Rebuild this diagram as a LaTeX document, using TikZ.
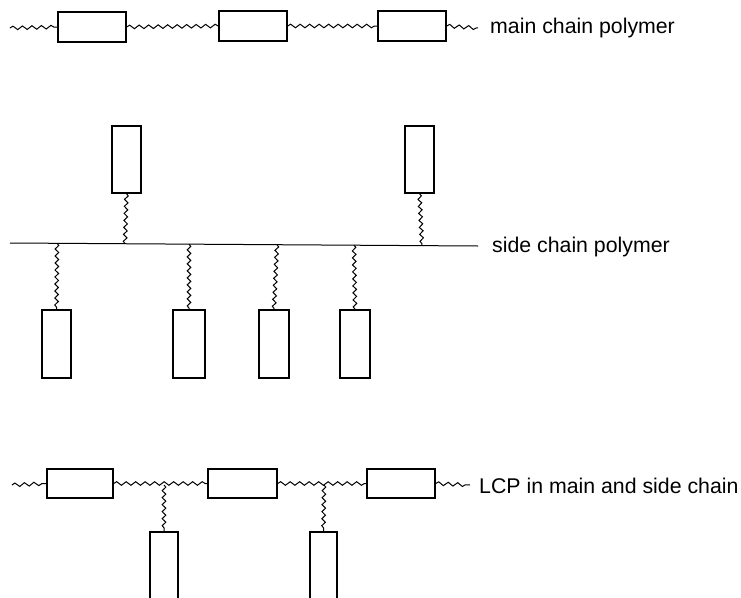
\documentclass[tikz,border=0pt]{standalone}
\usepackage{fontspec}
\setmainfont{Liberation Sans}
\usetikzlibrary{decorations.pathmorphing}
\begin{document}
\begin{tikzpicture}[x=1pt,y=-1pt,
  unit/.style={draw,line width=1.4pt,inner sep=0pt,fill=white},
  hbox/.style={unit,minimum width=68pt,minimum height=30pt},
  vbox/.style={unit,minimum width=29pt,minimum height=67pt},
  wavy/.style={line width=1pt,decorate,decoration={snake,segment length=9.5pt,amplitude=1.8pt}},
  vwavy/.style={line width=1pt,decorate,decoration={snake,segment length=7pt,amplitude=1.8pt}},
  flat/.style={line width=1pt},
  lbl/.style={anchor=west,inner sep=0pt,font=\fontsize{21.3}{25}\selectfont}]
\useasboundingbox (0,0) rectangle (741,597);
\begin{scope}
\clip (0,0) rectangle (741,597);
% top: main chain polymer
\coordinate (t0) at (10,28);
\coordinate (t4) at (478,28);
\node[hbox] (t1) at (92,27) {};
\node[hbox] (t2) at (253,26) {};
\node[hbox] (t3) at (412,26) {};
\draw[wavy] (t0) -- (t1.west);
\draw[wavy] (t1.east) -- (t2.west);
\draw[wavy] (t2.east) -- (t3.west);
\draw[wavy] (t3.east) -- (t4);
\node[lbl] (tl) at (490,28) {main chain polymer};
% middle: side chain polymer
\coordinate (m0) at (10,243);
\coordinate (m9) at (478,246);
\draw[flat] (m0) -- (m9);
\node[vbox] (mA) at (126.5,159.5) {};
\node[vbox] (mB) at (419.5,159.5) {};
\coordinate (jA) at (125,243.8);
\coordinate (jB) at (422,245.6);
\draw[vwavy] (mA.south) -- (jA);
\draw[vwavy] (mB.south) -- (jB);
\node[vbox,minimum height=68pt] (s1) at (56.5,344) {};
\node[vbox,minimum width=32pt,minimum height=68pt] (s2) at (189,344) {};
\node[vbox,minimum width=30pt,minimum height=68pt] (s3) at (274,344) {};
\node[vbox,minimum width=30pt,minimum height=68pt] (s4) at (355,344) {};
\coordinate (j1) at (57,243.3);
\coordinate (j2) at (189,244.2);
\coordinate (j3) at (277,244.7);
\coordinate (j4) at (354,245.2);
\draw[vwavy] (j1) -- (s1.north);
\draw[vwavy] (j2) -- (s2.north);
\draw[vwavy] (j3) -- (s3.north);
\draw[vwavy] (j4) -- (s4.north);
\node[lbl] (ml) at (492,247) {side chain polymer};
% bottom: LCP in main and side chain
\coordinate (b0) at (12,485);
\coordinate (b4) at (470,485);
\node[hbox,minimum width=66pt,minimum height=29pt] (b1) at (80,483.5) {};
\node[hbox,minimum width=69pt,minimum height=29pt] (b2) at (242.5,483.5) {};
\node[hbox,minimum height=29pt] (b3) at (401,483.5) {};
\coordinate (k1) at (164,485);
\coordinate (k2) at (324,485);
\draw[wavy] (b0) -- (b1.west);
\draw[wavy] (b1.east) -- (b2.west);
\draw[wavy] (b2.east) -- (b3.west);
\draw[wavy] (b3.east) -- (b4);
\node[unit,minimum width=28pt,minimum height=80pt] (c1) at (164,572) {};
\node[unit,minimum width=27pt,minimum height=80pt] (c2) at (323.5,572) {};
\draw[vwavy] (k1) -- (c1.north);
\draw[vwavy] (k2) -- (c2.north);
\node[lbl] (bl) at (479,486) {LCP in main and side chain};
\end{scope}
\end{tikzpicture}
\end{document}
